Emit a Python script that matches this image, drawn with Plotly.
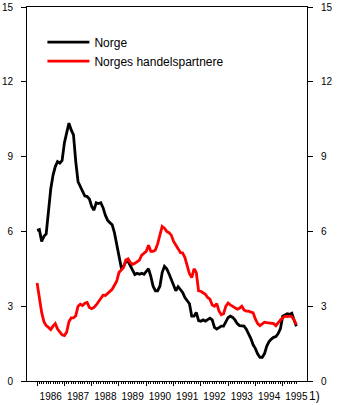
import plotly.graph_objects as go

# Monthly observations, January 1986 onwards
start_year = 1986
norge = [
    6.04, 6.07, 5.60, 5.80, 5.90, 6.90, 7.70, 8.25, 8.60, 8.80, 8.74, 8.85,
    9.55, 9.95, 10.34, 10.07, 9.87, 8.80, 8.00, 7.80, 7.60, 7.42, 7.40, 7.30,
    7.00, 6.85, 7.15, 7.12, 7.15, 6.95, 6.65, 6.45, 6.35, 6.27, 5.95, 5.45,
    4.95, 4.55, 4.60, 4.78, 4.80, 4.62, 4.45, 4.27, 4.32, 4.28, 4.32, 4.28,
    4.40, 4.50, 4.20, 3.80, 3.62, 3.62, 3.80, 4.35, 4.60, 4.50, 4.30, 4.05,
    3.80, 3.62, 3.78, 3.65, 3.55, 3.35, 3.22, 3.10, 2.60, 2.60, 2.75, 2.42,
    2.40, 2.45, 2.40, 2.45, 2.52, 2.45, 2.15, 2.08, 2.15, 2.20, 2.20, 2.35,
    2.55, 2.60, 2.55, 2.45, 2.30, 2.22, 2.20, 2.20, 2.08, 1.92, 1.70, 1.45,
    1.30, 1.08, 0.95, 0.95, 1.10, 1.40, 1.58, 1.68, 1.75, 1.78, 1.90, 2.10,
    2.60, 2.65, 2.70, 2.67, 2.72, 2.45, 2.20,
]
handelspartnere = [
    3.93, 3.25, 2.75, 2.38, 2.22, 2.15, 2.06, 2.20, 2.30, 2.08, 1.95, 1.85,
    1.82, 1.96, 2.38, 2.53, 2.53, 2.62, 3.00, 3.08, 3.03, 3.12, 3.15, 2.95,
    2.90, 2.95, 3.05, 3.18, 3.30, 3.44, 3.43, 3.52, 3.58, 3.68, 3.84, 4.00,
    4.35, 4.45, 4.55, 4.85, 4.90, 4.75, 4.68, 4.72, 4.80, 4.85, 5.05, 5.13,
    5.20, 5.45, 5.20, 5.20, 5.25, 5.50, 5.80, 6.20, 6.13, 6.00, 5.95, 5.85,
    5.60, 5.47, 5.30, 5.15, 5.13, 4.95, 4.60, 4.30, 4.15, 4.50, 4.35, 3.62,
    3.60, 3.55, 3.48, 3.35, 3.28, 3.05, 3.00, 3.10, 2.80, 2.66, 2.70, 3.00,
    3.13, 3.05, 3.00, 2.93, 2.88, 2.92, 3.00, 2.85, 2.80, 2.80, 2.75, 2.73,
    2.48, 2.30, 2.22, 2.28, 2.36, 2.34, 2.33, 2.32, 2.30, 2.22, 2.35, 2.45,
    2.53, 2.60, 2.58, 2.60, 2.58, 2.45, 2.26,
]
years = list(range(1986, 1996))
year_labels = [str(y) for y in years]
y_ticks = [0, 3, 6, 9, 12, 15]

t = [start_year + i / 12 for i in range(len(norge))]
months = [start_year + i / 12 for i in range(len(norge))]

font_family = "Liberation Sans, Arial, sans-serif"
x_range = [1985.63, 1995.89]

fig = go.Figure()
fig.add_trace(go.Scatter(x=t, y=norge, mode="lines", name="Norge",
                         line=dict(color="black", width=2.8)))
fig.add_trace(go.Scatter(x=t, y=handelspartnere, mode="lines",
                         name="Norges handelspartnere",
                         line=dict(color="#ff0000", width=2.8)))
# empty trace that carries the secondary axes (year labels, right scale)
fig.add_trace(go.Scatter(x=[], y=[], xaxis="x2", yaxis="y2",
                         showlegend=False, hoverinfo="skip"))

fig.update_layout(
    width=338, height=405,
    margin=dict(l=27, r=31, t=7, b=24, autoexpand=False),
    paper_bgcolor="white", plot_bgcolor="white",
    font=dict(family=font_family, size=10, color="black"),
    showlegend=True,
    legend=dict(x=0.055, y=0.945, xanchor="left", yanchor="top",
                font=dict(size=12), bgcolor="rgba(0,0,0,0)",
                itemwidth=42, tracegroupgap=0),
    xaxis=dict(range=x_range, showgrid=False, zeroline=False,
               automargin=False,
               showline=True, linecolor="black", linewidth=1,
               mirror=True,
               tickvals=years, ticks="outside", ticklen=4,
               tickcolor="black", tickwidth=1, showticklabels=False,
               minor=dict(tickvals=months, ticks="outside", ticklen=2,
                          tickcolor="black", tickwidth=1)),
    xaxis2=dict(range=x_range, overlaying="x", side="bottom", anchor="y",
                automargin=False,
                showgrid=False, zeroline=False,
                showline=True, mirror=True, linecolor="black", linewidth=1,
                tickvals=[y + 0.5 for y in years], ticktext=year_labels,
                ticks="outside", ticklen=6, tickcolor="rgba(0,0,0,0)",
                tickfont=dict(size=10)),
    yaxis=dict(range=[0, 15], showgrid=False, zeroline=False,
               automargin=False,
               showline=True, linecolor="black", linewidth=1,
               tickvals=y_ticks, ticks="outside", ticklen=5,
               tickcolor="black", ticklabelstandoff=6),
    yaxis2=dict(range=[0, 15], overlaying="y", side="right", anchor="x",
                automargin=False,
                showgrid=False, zeroline=False,
                showline=True, linecolor="black", linewidth=1,
                tickvals=y_ticks, ticks="outside", ticklen=5,
                tickcolor="black", ticklabelstandoff=6),
    annotations=[dict(text="1)", x=1.0, y=0, xref="paper", yref="paper",
                      xanchor="left", yanchor="top", yshift=-6,
                      showarrow=False, font=dict(size=12))],
)

fig.write_html("out.html")
